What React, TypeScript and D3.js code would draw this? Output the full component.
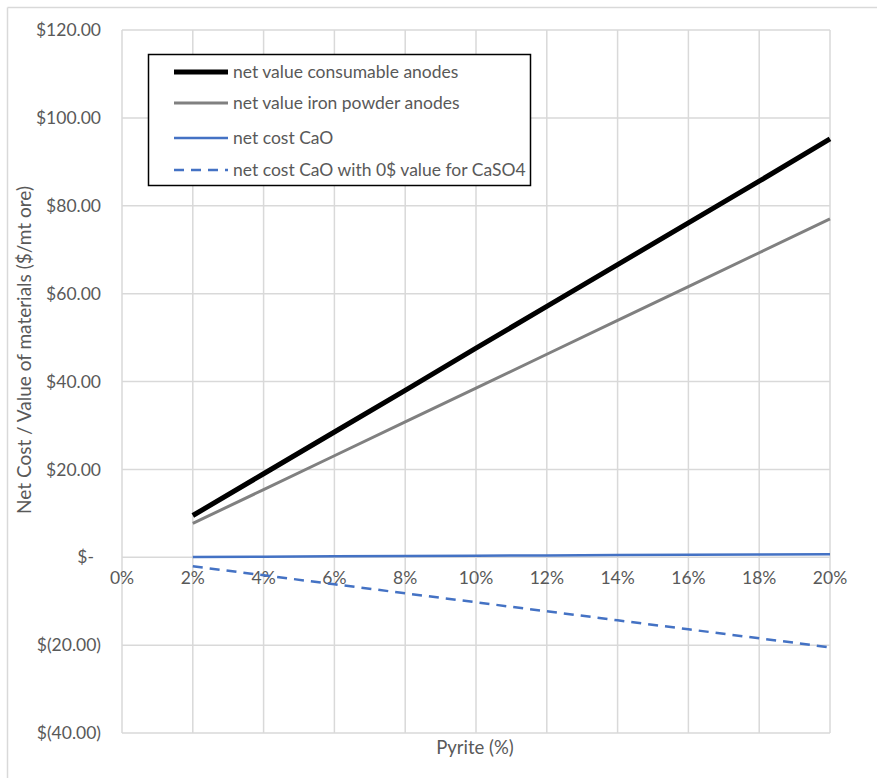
import React from "react";
import * as d3 from "d3";

// Pyrite content (%) for each computed point
const pyrite = [2, 4, 6, 8, 10, 12, 14, 16, 18, 20];
// Net value / cost series ($ per metric ton of ore)
const consumableAnodes = [9.5, 19.0, 28.5, 38.0, 47.6, 57.1, 66.6, 76.1, 85.6, 95.2];
const ironPowderAnodes = [7.7, 15.4, 23.1, 30.8, 38.5, 46.2, 53.9, 61.6, 69.3, 77.0];
const netCostCaO = [0.07, 0.14, 0.21, 0.28, 0.35, 0.42, 0.49, 0.56, 0.63, 0.7];
const netCostCaOZeroCaSO4 = [-2.05, -4.1, -6.15, -8.2, -10.25, -12.3, -14.35, -16.4, -18.45, -20.5];

const xTicks = [0, 2, 4, 6, 8, 10, 12, 14, 16, 18, 20];
const yTicks = [120, 100, 80, 60, 40, 20, 0, -20, -40];

const seriesNames = [
  "net value consumable anodes",
  "net value iron powder anodes",
  "net cost CaO",
  "net cost CaO with 0$ value for CaSO4",
];

const W = 877;
const H = 778;
const left = 122;
const right = 830;
const top = 30;
const bottom = 733;

const x = d3.scaleLinear().domain([0, 20]).range([left, right]);
const y = d3.scaleLinear().domain([-40, 120]).range([bottom, top]);

const fmtY = (v: number) => {
  if (v === 0) return "$-";
  const s = d3.format(",.2f")(Math.abs(v));
  return v < 0 ? `$(${s})` : `$${s}`;
};

const styles = [
  { stroke: "#000000", width: 5, dash: undefined as string | undefined },
  { stroke: "#808080", width: 3, dash: undefined },
  { stroke: "#4472c4", width: 2.5, dash: undefined },
  { stroke: "#4472c4", width: 2.5, dash: "10,7" },
];

const seriesData = [consumableAnodes, ironPowderAnodes, netCostCaO, netCostCaOZeroCaSO4];

export default function App() {
  const line = d3
    .line<[number, number]>()
    .x((d) => x(d[0]))
    .y((d) => y(d[1]));

  const font = "Lato, 'Open Sans', 'Liberation Sans', sans-serif";
  const textColor = "#595959";
  const fs = 17.5;

  return (
    <svg width={W} height={H} style={{ position: "absolute", left: 0, top: 0, fontFamily: font }}>
      <rect x={0} y={0} width={W} height={H} fill="#ffffff" />
      {/* outer chart frame (top and left edges fall inside the canvas) */}
      <line x1={7.5} x2={W} y1={7.5} y2={7.5} stroke="#d9d9d9" strokeWidth={1.5} />
      <line x1={7.5} x2={7.5} y1={7.5} y2={H} stroke="#d9d9d9" strokeWidth={1.5} />

      {/* gridlines */}
      {yTicks.map((t) => (
        <line key={"gy" + t} x1={left} x2={right} y1={y(t)} y2={y(t)} stroke="#d9d9d9" strokeWidth={1.5} />
      ))}
      {xTicks.map((t) => (
        <line key={"gx" + t} x1={x(t)} x2={x(t)} y1={top} y2={bottom} stroke="#d9d9d9" strokeWidth={1.5} />
      ))}

      {/* y tick labels */}
      {yTicks.map((t) => (
        <text
          key={"ty" + t}
          x={t === 0 ? 94 : 101}
          y={y(t)}
          dy="0.35em"
          textAnchor="end"
          fontSize={fs}
          fill={textColor}
        >
          {fmtY(t)}
        </text>
      ))}

      {/* x tick labels */}
      {xTicks.map((t) => (
        <text key={"tx" + t} x={x(t)} y={y(0) + 27} textAnchor="middle" fontSize={fs} fill={textColor}>
          {`${t}%`}
        </text>
      ))}

      {/* series */}
      {seriesData.map((vals, i) => (
        <path
          key={"s" + i}
          d={line(pyrite.map((p, j) => [p, vals[j]]) as [number, number][]) || ""}
          fill="none"
          stroke={styles[i].stroke}
          strokeWidth={styles[i].width}
          strokeDasharray={styles[i].dash}
          strokeLinejoin="round"
        />
      ))}

      {/* axis titles */}
      <text x={475} y={754} textAnchor="middle" fontSize={18.5} fill={textColor}>
        Pyrite (%)
      </text>
      <text
        transform={`translate(31, 350) rotate(-90)`}
        textAnchor="middle"
        fontSize={19}
        fill={textColor}
      >
        Net Cost / Value of materials ($/mt ore)
      </text>

      {/* legend */}
      <rect x={148.5} y={54.5} width={382} height={131} fill="#ffffff" stroke="#000000" strokeWidth={1.5} />
      {seriesNames.map((name, i) => {
        const ly = [72, 103, 138, 170][i];
        return (
          <g key={"lg" + i}>
            <line
              x1={174}
              x2={228}
              y1={ly}
              y2={ly}
              stroke={styles[i].stroke}
              strokeWidth={styles[i].width}
              strokeDasharray={styles[i].dash}
            />
            <text x={233} y={ly} dy="0.35em" fontSize={fs} fill={textColor}>
              {name}
            </text>
          </g>
        );
      })}
    </svg>
  );
}
